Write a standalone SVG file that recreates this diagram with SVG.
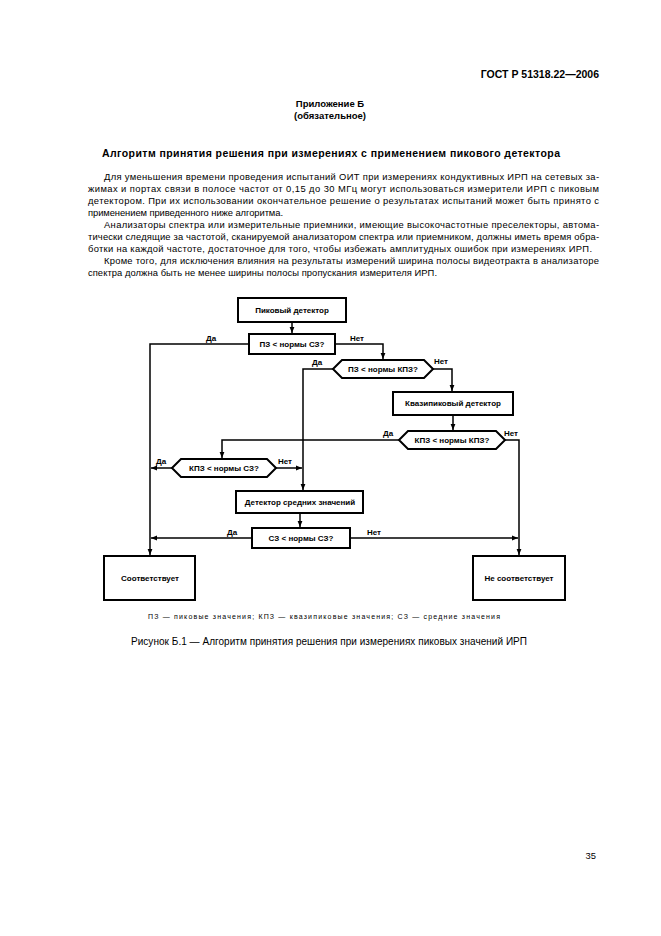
<svg xmlns="http://www.w3.org/2000/svg" width="661" height="936" viewBox="0 0 661 936">
<defs>
<marker id="ah" viewBox="0 0 10 10" refX="10" refY="5" markerWidth="6" markerHeight="6" markerUnits="userSpaceOnUse" orient="auto"><path d="M0,1 L10,5 L0,9 Z" fill="#000"/></marker>
</defs>
<style>
text{font-family:"Liberation Sans",Arial,sans-serif;fill:#000}
.hdr{font-size:10.5px;font-weight:bold}
.sub{font-size:9.5px;font-weight:bold}
.ttl{font-size:10.5px;font-weight:bold}
.p{font-size:9.4px}
.nd{font-size:8px;font-weight:bold}
.lb{font-size:8px;font-weight:bold}
.box{fill:#fff;stroke:#000;stroke-width:2}
.cn{fill:none;stroke:#000;stroke-width:1.5}
.ar{marker-end:url(#ah)}
.leg{font-size:7px}
.cap{font-size:10px}
</style>
<rect width="661" height="936" fill="#fff"/>
<text class="hdr" x="599" y="78" text-anchor="end">ГОСТ Р 51318.22—2006</text>
<text class="sub" x="330" y="107" text-anchor="middle">Приложение Б</text>
<text class="sub" x="330" y="119" text-anchor="middle">(обязательное)</text>
<text class="ttl" x="102" y="157" textLength="458" lengthAdjust="spacing">Алгоритм принятия решения при измерениях с применением  пикового  детектора</text>
<g class="p">
<text x="104" y="180" textLength="495" lengthAdjust="spacing">Для уменьшения времени проведения испытаний ОИТ при измерениях кондуктивных ИРП на сетевых за-</text>
<text x="88" y="192" textLength="511" lengthAdjust="spacing">жимах и портах связи в полосе частот от 0,15 до 30 МГц могут использоваться измерители ИРП с пиковым</text>
<text x="88" y="204" textLength="511" lengthAdjust="spacing">детектором. При их использовании окончательное решение о результатах  испытаний может быть принято с</text>
<text x="88" y="216" textLength="195" lengthAdjust="spacing">применением приведенного ниже алгоритма.</text>
<text x="104" y="228" textLength="495" lengthAdjust="spacing">Анализаторы спектра или измерительные приемники, имеющие высокочастотные преселекторы,  автома-</text>
<text x="88" y="240" textLength="511" lengthAdjust="spacing">тически следящие за частотой, сканируемой анализатором спектра или приемником, должны иметь время обра-</text>
<text x="88" y="252" textLength="504" lengthAdjust="spacing">ботки на каждой частоте,  достаточное для того,  чтобы избежать амплитудных ошибок при измерениях ИРП.</text>
<text x="104" y="264" textLength="495" lengthAdjust="spacing">Кроме того, для исключения влияния на результаты измерений  ширина полосы видеотракта в анализаторе</text>
<text x="88" y="276" textLength="349" lengthAdjust="spacing">спектра должна быть не менее ширины полосы пропускания измерителя ИРП.</text>
</g>
<g id="connectors">
<path class="cn ar" d="M292,322 V333"/>
<path class="cn ar" d="M249,344 H150 V555"/>
<path class="cn ar" d="M335,344 H383 V359"/>
<path class="cn ar" d="M333,369 H303 V490"/>
<path class="cn ar" d="M433,369 H452 V391"/>
<path class="cn ar" d="M453,415 V430"/>
<path class="cn ar" d="M399,440 H222 V458"/>
<path class="cn ar" d="M505,440 H519 V555"/>
<path class="cn ar" d="M172,468 H151"/>
<path class="cn ar" d="M276,468 H302"/>
<path class="cn ar" d="M300,513 V527"/>
<path class="cn ar" d="M252,538 H151"/>
<path class="cn ar" d="M350,538 H518"/>
<text class="lb" x="206" y="341">Да</text>
<text class="lb" x="350" y="341">Нет</text>
<text class="lb" x="312" y="365">Да</text>
<text class="lb" x="434" y="364">Нет</text>
<text class="lb" x="383" y="436">Да</text>
<text class="lb" x="504" y="436">Нет</text>
<text class="lb" x="156" y="464">Да</text>
<text class="lb" x="278" y="464">Нет</text>
<text class="lb" x="227" y="535">Да</text>
<text class="lb" x="367" y="535">Нет</text>
</g>
<g id="n1"><rect class="box" x="238" y="298" width="108" height="24"/><text class="nd" x="292" y="313" text-anchor="middle">Пиковый детектор</text></g>
<g id="n2"><rect class="box" x="249" y="334" width="86" height="20"/><text class="nd" x="292" y="347" text-anchor="middle">ПЗ &lt; нормы СЗ?</text></g>
<g id="n3"><polygon class="box" points="333,369 342,360 424,360 433,369 424,378 342,378"/><text class="nd" x="383" y="372" text-anchor="middle">ПЗ &lt; нормы КПЗ?</text></g>
<g id="n4"><rect class="box" x="393" y="392" width="120" height="23"/><text class="nd" x="453" y="406" text-anchor="middle">Квазипиковый детектор</text></g>
<g id="n5"><polygon class="box" points="399,440 408,431 496,431 505,440 496,449 408,449"/><text class="nd" x="452" y="443" text-anchor="middle">КПЗ &lt; нормы КПЗ?</text></g>
<g id="n6"><polygon class="box" points="172,468 181,459 267,459 276,468 267,477 181,477"/><text class="nd" x="224" y="471" text-anchor="middle">КПЗ &lt; нормы СЗ?</text></g>
<g id="n7"><rect class="box" x="236" y="491" width="127" height="22"/><text class="nd" x="300" y="505" text-anchor="middle">Детектор средних значений</text></g>
<g id="n8"><rect class="box" x="252" y="528" width="98" height="20"/><text class="nd" x="301" y="541" text-anchor="middle">СЗ &lt; нормы СЗ?</text></g>
<g id="n9"><rect class="box" x="104" y="556" width="91" height="44"/><text class="nd" x="150" y="581" text-anchor="middle">Соответствует</text></g>
<g id="n10"><rect class="box" x="473" y="556" width="92" height="44"/><text class="nd" x="519" y="581" text-anchor="middle">Не соответствует</text></g>
<text class="leg" x="148" y="619" textLength="352" lengthAdjust="spacing">ПЗ — пиковые значения; КПЗ — квазипиковые значения; СЗ — средние значения</text>
<text class="cap" x="131" y="645" textLength="396" lengthAdjust="spacing">Рисунок Б.1 — Алгоритм принятия решения при измерениях пиковых значений ИРП</text>
<text class="p" x="596" y="859" text-anchor="end">35</text>
</svg>
